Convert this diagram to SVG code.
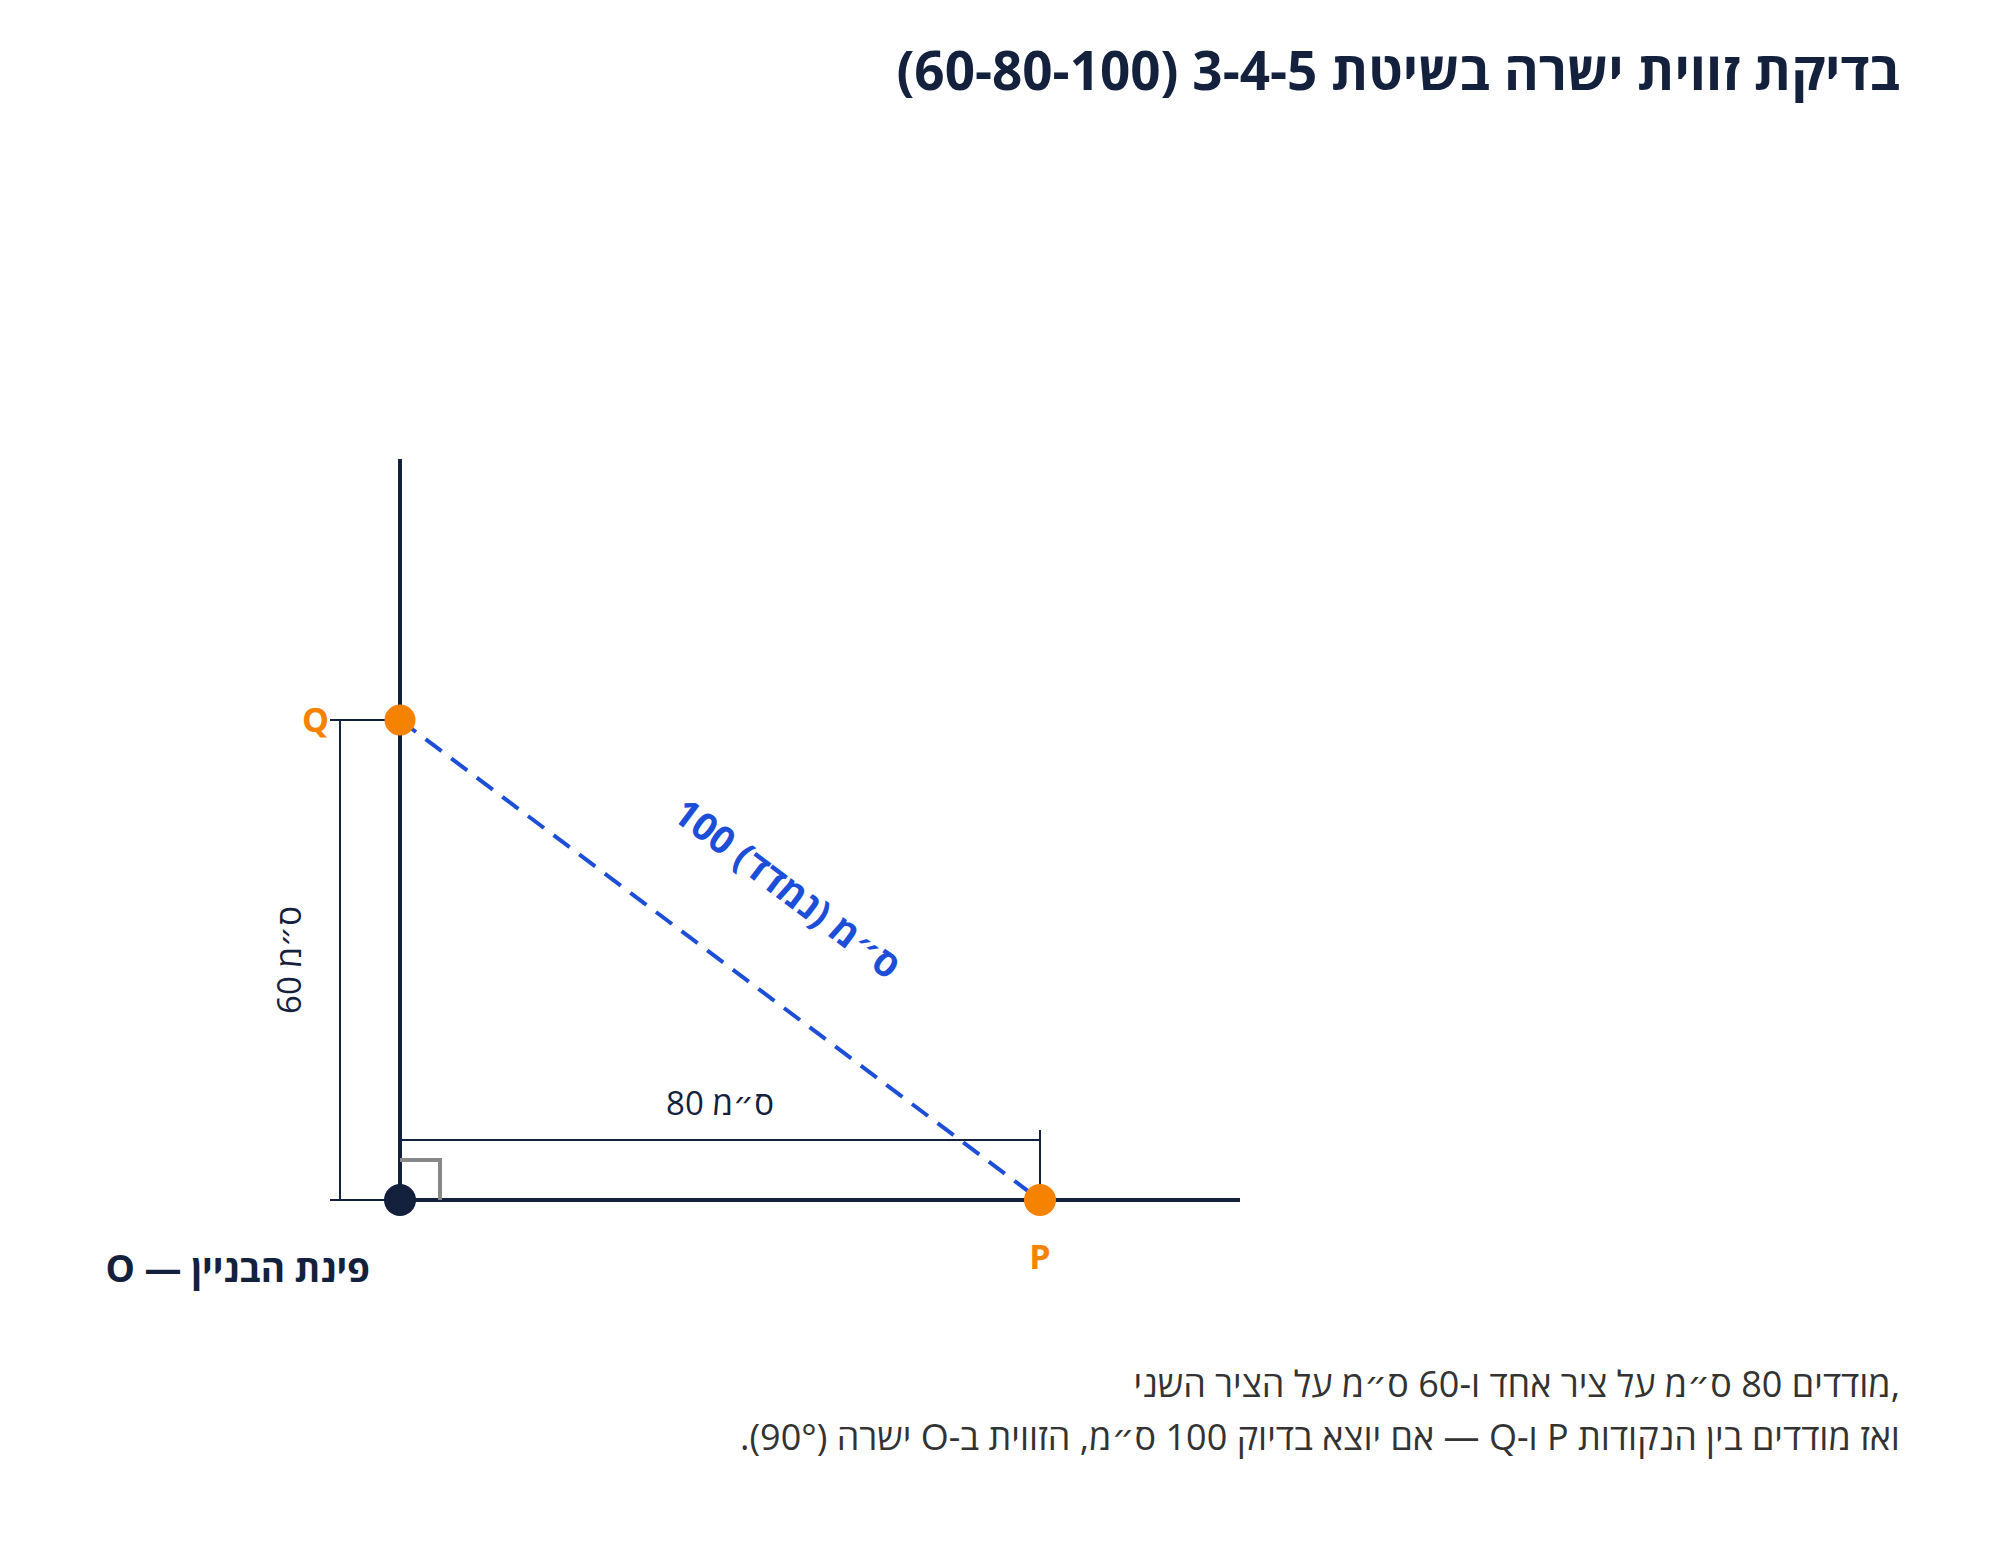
<svg xmlns="http://www.w3.org/2000/svg" width="2000" height="1560" viewBox="0 0 2000 1560">
<style>
text{font-family:"Open Sans","Noto Sans","DejaVu Sans",sans-serif}
.axis{stroke:#14213d;stroke-width:4;fill:none}
.dim{stroke:#14213d;stroke-width:2;fill:none}
.title{font-size:53px;font-weight:700;fill:#14213d}
.lbl{font-size:33px;fill:#14213d}
.pt{font-size:34px;font-weight:700;fill:#f58300}
.cap{font-size:36px;fill:#333333}
</style>
<rect width="2000" height="1560" fill="#ffffff"/>
<text id="title" class="title" x="1900" y="90" direction="rtl" text-anchor="start">בדיקת זווית ישרה בשיטת 3-4-5 (60-80-100)</text>
<g id="connectors">
<line class="axis" x1="400" y1="459" x2="400" y2="1200"/>
<line class="axis" x1="400" y1="1200" x2="1240" y2="1200"/>
<path d="M400 1160 H440 V1200" stroke="#888888" stroke-width="4" fill="none"/>
<line class="dim" x1="330" y1="720" x2="400" y2="720"/>
<line class="dim" x1="330" y1="1200" x2="400" y2="1200"/>
<line class="dim" x1="340" y1="720" x2="340" y2="1200"/>
<line class="dim" x1="400" y1="1140" x2="1040" y2="1140"/>
<line class="dim" x1="1040" y1="1130" x2="1040" y2="1200"/>
<line x1="400" y1="720" x2="1040" y2="1200" stroke="#1d4ed8" stroke-width="4" stroke-dasharray="20 12"/>
</g>
<g id="node-O">
<circle cx="400" cy="1200" r="16" fill="#14213d"/>
<text x="370" y="1282" font-size="37" font-weight="700" fill="#14213d" direction="rtl" text-anchor="start">פינת הבניין — O</text>
</g>
<g id="node-Q">
<circle cx="400" cy="720" r="15.5" fill="#f58300"/>
<text class="pt" x="329" y="732" text-anchor="end">Q</text>
</g>
<g id="node-P">
<circle cx="1040" cy="1200" r="16" fill="#f58300"/>
<text class="pt" x="1040" y="1269" text-anchor="middle">P</text>
</g>
<g id="labels">
<text class="lbl" x="720" y="1115" text-anchor="middle">80 ס״מ</text>
<text class="lbl" transform="translate(301 960) rotate(-90)" x="0" y="0" text-anchor="middle">60 ס״מ</text>
<text transform="translate(787 889) rotate(36.87)" x="0" y="13" font-size="38" font-weight="700" fill="#1d4ed8" text-anchor="middle" direction="rtl">ס״מ (נמדד) 100</text>
</g>
<g id="caption">
<text class="cap" x="1900" y="1397" text-anchor="end">מודדים 80 ס״מ על ציר אחד ו-60 ס״מ על הציר השני,</text>
<text class="cap" x="1900" y="1450" direction="rtl" text-anchor="start">ואז מודדים בין הנקודות P ו-Q — אם יוצא בדיוק 100 ס״מ, הזווית ב-O ישרה (90°).</text>
</g>
</svg>
